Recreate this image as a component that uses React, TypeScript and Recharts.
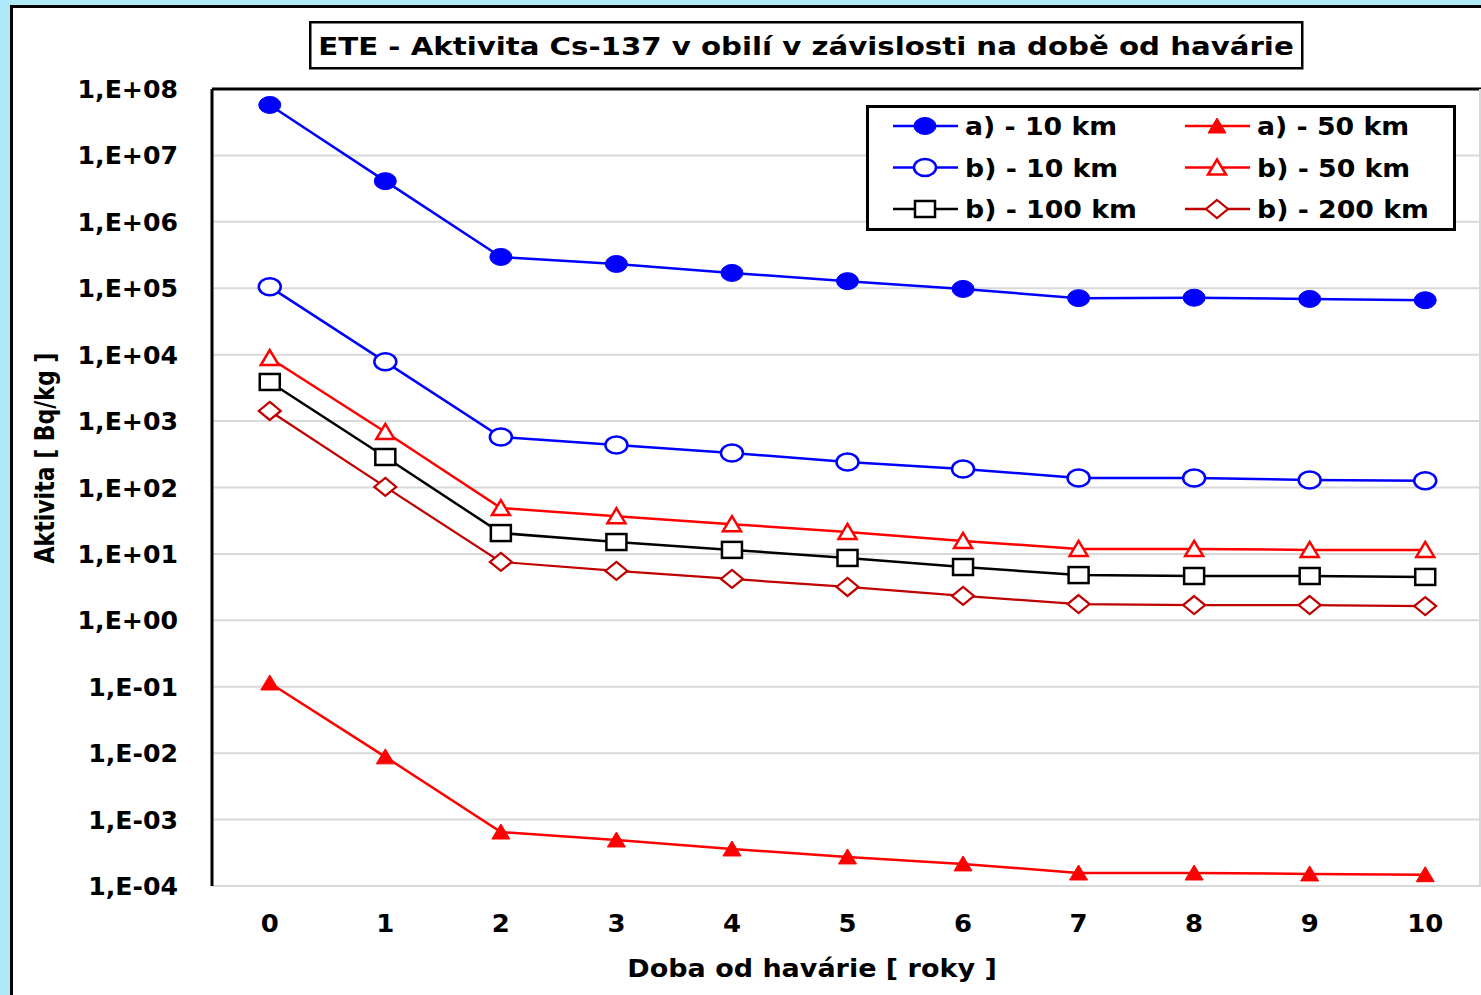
import React from 'react';
import { LineChart, Line, XAxis, YAxis, CartesianGrid, ReferenceLine } from 'recharts';

const years = [0, 1, 2, 3, 4, 5, 6, 7, 8, 9, 10];

const a10km = [5.75e7, 4.1e6, 2.96e5, 2.32e5, 1.7e5, 1.28e5, 9.76e4, 7.1e4, 7.2e4, 6.9e4, 6.6e4];
const b10km = [1.05e5, 7.8e3, 577, 437, 331, 242, 190, 139, 139, 130, 126];
const b50km = [8.9e3, 686, 49, 37, 28, 21.4, 15.7, 11.9, 11.9, 11.5, 11.5];
const b100km = [3.88e3, 288, 20.6, 15.1, 11.5, 8.7, 6.35, 4.8, 4.65, 4.65, 4.5];
const b200km = [1.42e3, 102, 7.57, 5.54, 4.2, 3.18, 2.33, 1.76, 1.7, 1.7, 1.64];
const a50km = [0.114, 8.8e-3, 6.5e-4, 4.93e-4, 3.61e-4, 2.74e-4, 2.15e-4, 1.57e-4, 1.57e-4, 1.52e-4, 1.48e-4];

const yTicks = [1e-4, 1e-3, 1e-2, 1e-1, 1, 1e1, 1e2, 1e3, 1e4, 1e5, 1e6, 1e7, 1e8];

const FONT = '"DejaVu Sans", Verdana, sans-serif';
const BLUE = '#0000ff';
const RED = '#ff0000';
const DARKRED = '#c00000';

const data = years.map((x, i) => ({
  x,
  a10: a10km[i],
  b10: b10km[i],
  b50: b50km[i],
  b100: b100km[i],
  b200: b200km[i],
  a50: a50km[i],
}));

type Shape = 'circle' | 'triangle' | 'square' | 'diamond';

function Marker({ cx, cy, shape, color, filled }: { cx: number; cy: number; shape: Shape; color: string; filled: boolean }) {
  const fill = filled ? color : '#ffffff';
  const sw = filled ? 1 : 2.5;
  if (shape === 'circle') return <ellipse cx={cx} cy={cy} rx={11} ry={8.5} fill={fill} stroke={color} strokeWidth={sw} />;
  if (shape === 'triangle')
    return <polygon points={`${cx},${cy - 8} ${cx + 9},${cy + 7} ${cx - 9},${cy + 7}`} fill={fill} stroke={color} strokeWidth={sw} />;
  if (shape === 'square') return <rect x={cx - 10} y={cy - 8} width={20} height={16} fill={fill} stroke={color} strokeWidth={sw} />;
  return <polygon points={`${cx},${cy - 9} ${cx + 11},${cy} ${cx},${cy + 9} ${cx - 11},${cy}`} fill={fill} stroke={color} strokeWidth={2.2} />;
}

const dotFor = (shape: Shape, color: string, filled: boolean) => (p: any) =>
  <Marker key={`${shape}-${color}-${filled}-${p.index}`} cx={p.cx} cy={p.cy} shape={shape} color={color} filled={filled} />;

// bold text, stretched horizontally like the source picture
function SText({ x, y, sx = 1, size, anchor = 'start', children }: any) {
  return (
    <text
      transform={`translate(${x} ${y}) scale(${sx} 1)`}
      textAnchor={anchor}
      fontFamily={FONT}
      fontWeight="bold"
      fontSize={size}
      fill="#000"
    >
      {children}
    </text>
  );
}

const expLabel = (v: number) => {
  const e = Math.round(Math.log10(v));
  return `1,E${e < 0 ? '-' : '+'}${String(Math.abs(e)).padStart(2, '0')}`;
};

const YTick = ({ y, payload }: any) => (
  <SText x={178} y={y + 9} sx={1.05} size={24} anchor="end">
    {expLabel(payload.value)}
  </SText>
);

const XTick = ({ x, payload }: any) => (
  <SText x={x} y={932} sx={1.08} size={24} anchor="middle">
    {payload.value}
  </SText>
);

const legendItems: { label: string; shape: Shape; color: string; filled: boolean }[] = [
  { label: 'a) - 10 km', shape: 'circle', color: BLUE, filled: true },
  { label: 'a) - 50 km', shape: 'triangle', color: RED, filled: true },
  { label: 'b) - 10 km', shape: 'circle', color: BLUE, filled: false },
  { label: 'b) - 50 km', shape: 'triangle', color: RED, filled: false },
  { label: 'b) - 100 km', shape: 'square', color: '#000000', filled: false },
  { label: 'b) - 200 km', shape: 'diamond', color: DARKRED, filled: false },
];

function LegendBox() {
  return (
    <svg width={590} height={126} style={{ position: 'absolute', left: 866, top: 105 }}>
      <rect x={1.5} y={1.5} width={587} height={123} fill="#fff" stroke="#000" strokeWidth={3} />
      {legendItems.map((it, i) => {
        const col = i % 2;
        const row = Math.floor(i / 2);
        const lx = col === 0 ? 27 : 319;
        const cy = 21 + row * 41.5;
        return (
          <g key={it.label}>
            <line x1={lx} x2={lx + 65} y1={cy} y2={cy} stroke={it.color} strokeWidth={2.5} />
            <Marker cx={lx + 32} cy={cy} shape={it.shape} color={it.color} filled={it.filled} />
            <SText x={lx + 72} y={cy + 9} sx={1.07} size={25}>
              {it.label}
            </SText>
          </g>
        );
      })}
    </svg>
  );
}

function Title() {
  return (
    <svg width={996} height={50} style={{ position: 'absolute', left: 309, top: 21 }}>
      <rect x={1.25} y={1.25} width={992} height={46} fill="#fff" stroke="#000" strokeWidth={2.5} />
      <SText x={497} y={34} sx={1.17} size={25} anchor="middle">
        ETE - Aktivita Cs-137 v obilí v závislosti na době od havárie
      </SText>
    </svg>
  );
}

export default function App() {
  return (
    <div style={{ position: 'fixed', left: 0, top: 0, width: 1481, height: 995, background: '#aee9f9', overflow: 'hidden' }}>
      <div
        style={{
          position: 'absolute',
          left: 10,
          top: 5,
          width: 1500,
          height: 1010,
          background: '#fff',
          borderLeft: '3px solid #000',
          borderTop: '3px solid #000',
        }}
      />
      <div style={{ position: 'absolute', left: 0, top: 0 }}>
        <LineChart width={1484} height={995} data={data} margin={{ top: 89, right: 1, bottom: 79, left: 0 }}>
          <CartesianGrid vertical={false} stroke="#d9d9d9" strokeWidth={2} />
          <XAxis
            dataKey="x"
            type="number"
            domain={[-0.5, 10.5]}
            ticks={years}
            axisLine={false}
            tickLine={false}
            height={30}
            tick={<XTick />}
            label={{
              content: () => (
                <SText x={812} y={977} sx={1.125} size={24} anchor="middle">
                  Doba od havárie [ roky ]
                </SText>
              ),
            }}
          />
          <YAxis
            scale="log"
            domain={[1e-4, 1e8]}
            ticks={yTicks}
            allowDataOverflow
            width={212}
            axisLine={{ stroke: '#000', strokeWidth: 3 }}
            tickLine={false}
            tick={<YTick />}
            label={{
              content: () => (
                <text
                  transform="translate(54 458) rotate(-90) scale(1 1.2)"
                  textAnchor="middle"
                  fontFamily={FONT}
                  fontWeight="bold"
                  fontSize={22}
                  fill="#000"
                >
                  Aktivita [ Bq/kg ]
                </text>
              ),
            }}
          />
          <ReferenceLine y={1e8} stroke="#000" strokeWidth={3} />
          <Line dataKey="a10" stroke={BLUE} strokeWidth={2.5} isAnimationActive={false} dot={dotFor('circle', BLUE, true)} />
          <Line dataKey="b10" stroke={BLUE} strokeWidth={2.5} isAnimationActive={false} dot={dotFor('circle', BLUE, false)} />
          <Line dataKey="b50" stroke={RED} strokeWidth={2.5} isAnimationActive={false} dot={dotFor('triangle', RED, false)} />
          <Line dataKey="b100" stroke="#000" strokeWidth={2.5} isAnimationActive={false} dot={dotFor('square', '#000', false)} />
          <Line dataKey="b200" stroke={DARKRED} strokeWidth={2.2} isAnimationActive={false} dot={dotFor('diamond', DARKRED, false)} />
          <Line dataKey="a50" stroke={RED} strokeWidth={2.5} isAnimationActive={false} dot={dotFor('triangle', RED, true)} />
        </LineChart>
      </div>
      <div style={{ position: 'absolute', left: 1479, top: 89, width: 2, height: 798, background: '#d9d9d9' }} />
      <Title />
      <LegendBox />
    </div>
  );
}
